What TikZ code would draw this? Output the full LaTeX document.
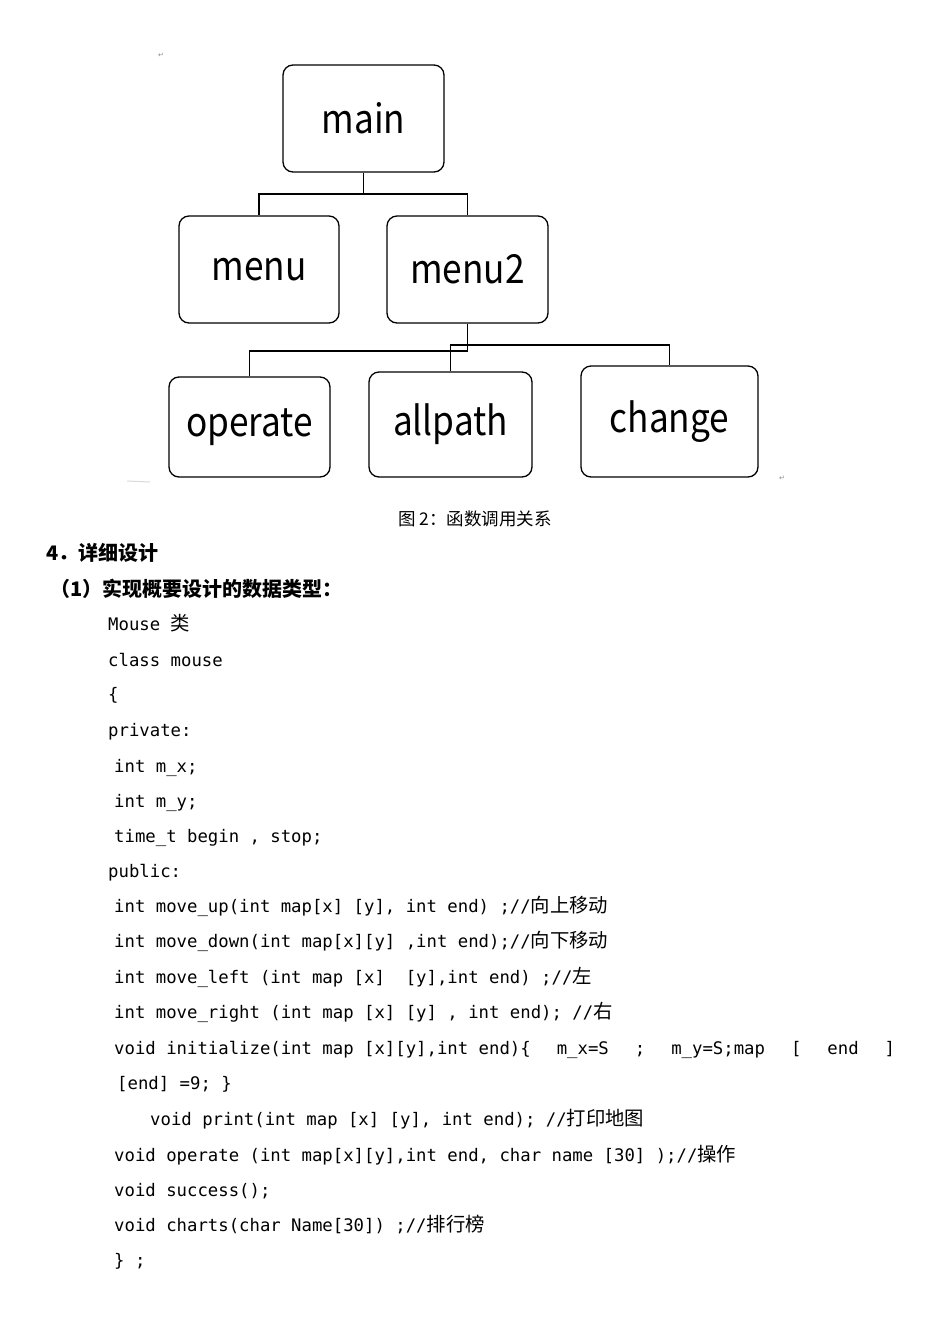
\documentclass[tikz,border=0pt]{standalone}
\usepackage{fontspec}
\setmainfont{DejaVu Sans}
\newfontfamily\code{DejaVu Sans Mono}
\newfontfamily\cjk{Noto Sans CJK SC}
\newfontfamily\cjkc{Noto Sans CJK SC}[Scale=1.12]
\newfontfamily\boxfont{Noto Sans CJK SC}[FakeStretch=0.88]
\newfontfamily\sym{DejaVu Sans}
\begin{document}
\begin{tikzpicture}[x=1pt,y=-1pt,
  box/.style={draw,line width=1.3pt,rounded corners=10pt,inner sep=0pt,
    font=\boxfont\fontsize{40}{40}\selectfont},
  conn/.style={line width=1.3pt},
  codeline/.style={anchor=base west,inner sep=0pt,font=\code\fontsize{17.3}{20}\selectfont},
  head/.style={anchor=base west,inner sep=0pt,font=\cjk\bfseries\fontsize{20}{22}\selectfont},
  pmark/.style={inner sep=0pt,font=\sym\fontsize{7}{7}\selectfont,text=black!45}]
\useasboundingbox (0,0) rectangle (950,1344);
\fill[white] (0,0) rectangle (950,1344);
% boxes
\node[box,minimum width=161pt,minimum height=107pt] (main)    at (363.5,118.5) {main};
\node[box,minimum width=160pt,minimum height=107pt] (menu)    at (259,269.5)   {menu};
\node[box,minimum width=161pt,minimum height=107pt] (menu2)   at (467.5,269.5) {menu2};
\node[box,minimum width=161pt,minimum height=100pt] (operate) at (249.5,427)   {operate};
\node[box,minimum width=163pt,minimum height=105pt] (allpath) at (450.5,424.5) {allpath};
\node[box,minimum width=177pt,minimum height=111pt] (change)  at (669.5,421.5) {change};
% connectors
\coordinate (j1) at (363.5,194);
\coordinate (j2) at (467.5,345);
\coordinate (j3) at (467.5,351);
\draw[conn] (main.south) -- (j1);
\draw[conn] (j1) -| (menu.north);
\draw[conn] (j1) -| (menu2.north);
\draw[conn] (menu2.south) -- (j3) -| (operate.north);
\draw[conn] (j2) -| (change.north);
\draw[conn] (allpath.north) |- (j2);
% paragraph marks
\node[pmark] (pm1) at (161,55) {↵};
\node[pmark] (pm2) at (782,478) {↵};
\coordinate (f1) at (127,481);
\coordinate (f2) at (150,482);
\draw[black!15,line width=1pt] (f1) -- (f2);
% caption and headings
\node[anchor=base west,inner sep=0pt,font=\cjk\fontsize{17.5}{18}\selectfont] (cap) at (398,525) {图 2：函数调用关系};
\node[head] (h1) at (46,560) {4．详细设计};
\node[head] (h2) at (50,596) {（1）实现概要设计的数据类型：};
% code
\node[codeline] (c1)  at (108,630)  {Mouse {\cjkc 类}};
\node[codeline] (c2)  at (108,666)  {class mouse};
\node[codeline] (c3)  at (108,700)  {\{};
\node[codeline] (c4)  at (108,736)  {private:};
\node[codeline] (c5)  at (114,772)  {int m\_x;};
\node[codeline] (c6)  at (114,807)  {int m\_y;};
\node[codeline] (c7)  at (114,842)  {time\_t begin , stop;};
\node[codeline] (c8)  at (108,877)  {public:};
\node[codeline] (c9)  at (114,912)  {int move\_up(int map[x] [y], int end) ;//{\cjkc 向上移动}};
\node[codeline] (c10) at (114,947)  {int move\_down(int map[x][y] ,int end);//{\cjkc 向下移动}};
\node[codeline] (c11) at (114,983)  {int move\_left (int map [x]\ \ [y],int end) ;//{\cjkc 左}};
\node[codeline] (c12) at (114,1018) {int move\_right (int map [x] [y] , int end); //{\cjkc 右}};
\node[codeline] (c13) at (114,1054) {\hbox to 781pt{void initialize(int map [x][y],int end)\{\hfil m\_x=S\hfil ;\hfil m\_y=S;map\hfil [\hfil end\hfil ]}};
\node[codeline] (c14) at (117,1089) {[end] =9; \}};
\node[codeline] (c15) at (150,1125) {void print(int map [x] [y], int end); //{\cjkc 打印地图}};
\node[codeline] (c16) at (114,1161) {void operate (int map[x][y],int end, char name [30] );//{\cjkc 操作}};
\node[codeline] (c17) at (114,1196) {void success();};
\node[codeline] (c18) at (114,1231) {void charts(char Name[30]) ;//{\cjkc 排行榜}};
\node[codeline] (c19) at (114,1266) {\} ;};
\end{tikzpicture}
\end{document}
